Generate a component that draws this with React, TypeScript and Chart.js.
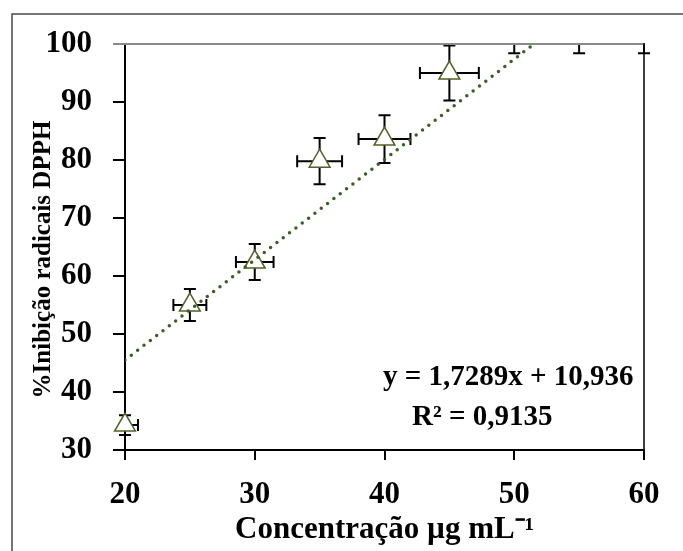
import { useEffect, useRef } from "react";
import { Chart, registerables } from "chart.js";

Chart.register(...registerables);

// ---- Data ----
const concentrations = [20, 25, 30, 35, 40, 45, 50, 55, 60];
const inhibition = [34.3, 55.0, 62.4, 79.8, 83.6, 95.0, 101.2, 101.2, 101.2];
const inhibitionErr = [1.7, 2.75, 3.1, 4.0, 4.1, 4.75, 2.8, 2.8, 2.8];
const concentrationErr = [1.0, 1.27, 1.45, 1.73, 2.0, 2.27, 2.5, 2.75, 3.0];

const xTicks = [20, 30, 40, 50, 60];
const yTicks = [30, 40, 50, 60, 70, 80, 90, 100];

const TREND_SLOPE = 1.7289;
const TREND_INTERCEPT = 10.936;
const equationLines = ["y = 1,7289x + 10,936", "R² = 0,9135"];

const xTitle = "Concentração µg mL⁻¹";
const yTitle = "%Inibição radicais DPPH\u00A0\u00A0\u00A0\u00A0";

const X_MIN = 20;
const X_MAX = 60;
const Y_MIN = 30;
const Y_MAX = 100;

const FONT = "'Liberation Serif', 'Times New Roman', serif";
const MARKER_COLOR = "#4f6228";
const TREND_COLOR = "#3d5c27";

const errorBarPlugin = {
  id: "errorBars",
  beforeDatasetsDraw(chart: any) {
    const { ctx, chartArea } = chart;
    const xs = chart.scales.x;
    const ys = chart.scales.y;
    const cap = 6;
    ctx.save();
    ctx.beginPath();
    ctx.rect(chartArea.left - 8, chartArea.top, chartArea.right - chartArea.left + 16, chartArea.bottom - chartArea.top + 8);
    ctx.clip();
    ctx.strokeStyle = "#000";
    ctx.lineWidth = 2;
    concentrations.forEach((c, i) => {
      const v = inhibition[i];
      const px = xs.getPixelForValue(c);
      const py = ys.getPixelForValue(v);
      const yHi = ys.getPixelForValue(v + inhibitionErr[i]);
      const yLo = ys.getPixelForValue(v - inhibitionErr[i]);
      let xL = xs.getPixelForValue(c - concentrationErr[i]);
      let xR = xs.getPixelForValue(c + concentrationErr[i]);
      ctx.beginPath();
      ctx.moveTo(px, yHi);
      ctx.lineTo(px, yLo);
      ctx.moveTo(px - cap, yHi);
      ctx.lineTo(px + cap, yHi);
      ctx.moveTo(px - cap, yLo);
      ctx.lineTo(px + cap, yLo);
      if (py >= chartArea.top) {
        const drawL = xL >= chartArea.left;
        const drawR = xR <= chartArea.right;
        xL = Math.max(xL, chartArea.left);
        xR = Math.min(xR, chartArea.right);
        ctx.moveTo(xL, py);
        ctx.lineTo(xR, py);
        if (drawL) {
          ctx.moveTo(xL, py - cap);
          ctx.lineTo(xL, py + cap);
        }
        if (drawR) {
          ctx.moveTo(xR, py - cap);
          ctx.lineTo(xR, py + cap);
        }
      }
      ctx.stroke();
    });
    ctx.restore();
  },
};

const framePlugin = {
  id: "frame",
  beforeDraw(chart: any) {
    const { ctx, width, height } = chart;
    ctx.save();
    ctx.fillStyle = "#fff";
    ctx.fillRect(0, 0, width, height);
    ctx.strokeStyle = "#4a4a4a";
    ctx.lineWidth = 1.5;
    ctx.strokeRect(12, 14, width + 20, height + 20);
    ctx.restore();
  },
  afterDraw(chart: any) {
    const { ctx, chartArea } = chart;
    ctx.save();
    // top border of the plot area (grey) and right border (black)
    ctx.strokeStyle = "#8a8a8a";
    ctx.lineWidth = 2;
    ctx.beginPath();
    ctx.moveTo(chartArea.left - 12, chartArea.top);
    ctx.lineTo(chartArea.right, chartArea.top);
    ctx.stroke();
    ctx.strokeStyle = "#000";
    ctx.lineWidth = 1.5;
    ctx.beginPath();
    ctx.moveTo(chartArea.right, chartArea.top - 1);
    ctx.lineTo(chartArea.right, chartArea.bottom);
    ctx.stroke();
    // trendline equation
    ctx.fillStyle = "#000";
    ctx.font = `bold 29px ${FONT}`;
    ctx.textAlign = "left";
    ctx.textBaseline = "alphabetic";
    ctx.fillText(equationLines[0], 383, 385);
    ctx.fillText(equationLines[1], 412, 425);
    ctx.restore();
  },
};

export default function App() {
  const canvasRef = useRef<HTMLCanvasElement | null>(null);

  useEffect(() => {
    if (!canvasRef.current) return;
    const trendData = [X_MIN, X_MAX].map((x) => ({ x, y: TREND_SLOPE * x + TREND_INTERCEPT }));
    const pointData = concentrations.map((c, i) => ({ x: c, y: inhibition[i] }));

    const chart = new Chart(canvasRef.current, {
      type: "scatter",
      data: {
        datasets: [
          {
            type: "line",
            data: trendData,
            borderColor: TREND_COLOR,
            borderWidth: 3.5,
            borderDash: [0, 8],
            borderCapStyle: "round",
            pointRadius: 0,
            fill: false,
            order: 0,
          } as any,
          {
            type: "scatter",
            data: pointData,
            pointStyle: "triangle",
            pointRadius: (ctx: any) => (ctx.raw && ctx.raw.y > Y_MAX ? 0 : 12),
            pointHoverRadius: 0,
            backgroundColor: "#ffffff",
            borderColor: MARKER_COLOR,
            borderWidth: 1.5,
            clip: false,
            order: 1,
          } as any,
        ],
      },
      options: {
        animation: false,
        responsive: false,
        events: [],
        layout: { padding: { left: 0, top: 44, right: 39, bottom: 0 } },
        plugins: { legend: { display: false }, tooltip: { enabled: false } },
        scales: {
          x: {
            type: "linear",
            min: X_MIN,
            max: X_MAX,
            afterBuildTicks: (s: any) => {
              s.ticks = xTicks.map((v) => ({ value: v }));
            },
            afterFit: (s: any) => {
              s.height = 101;
            },
            grid: { drawOnChartArea: false, drawTicks: true, tickLength: 10, color: "#000", lineWidth: 2 },
            border: { display: true, color: "#000", width: 2 },
            ticks: {
              padding: 16,
              color: "#000",
              font: { family: FONT, size: 31, weight: "bold" },
              callback: (v: any) => String(v),
            },
            title: {
              display: true,
              text: xTitle,
              color: "#000",
              font: { family: FONT, size: 31, weight: "bold" },
              padding: { top: 0, bottom: 2 },
            },
          },
          y: {
            type: "linear",
            min: Y_MIN,
            max: Y_MAX,
            afterBuildTicks: (s: any) => {
              s.ticks = yTicks.map((v) => ({ value: v }));
            },
            afterFit: (s: any) => {
              s.width = 125;
            },
            grid: { drawOnChartArea: false, drawTicks: true, tickLength: 12, color: "#000", lineWidth: 2 },
            border: { display: true, color: "#000", width: 2 },
            ticks: {
              padding: 21,
              color: "#000",
              font: { family: FONT, size: 31, weight: "bold" },
              callback: (v: any) => String(v),
            },
            title: {
              display: true,
              text: yTitle,
              color: "#000",
              font: { family: FONT, size: 25, weight: "bold" },
              padding: { top: 29, bottom: 0 },
            },
          },
        },
      },
      plugins: [framePlugin, errorBarPlugin],
    });
    return () => chart.destroy();
  }, []);

  return (
    <div style={{ position: "absolute", left: 0, top: 0, width: 683, height: 551, background: "#fff" }}>
      <canvas ref={canvasRef} width={683} height={551} style={{ display: "block" }} />
    </div>
  );
}
